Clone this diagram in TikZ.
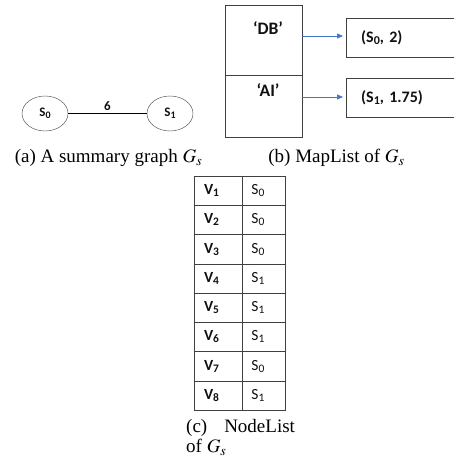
\documentclass[tikz,border=0pt]{standalone}
\usepackage{mathptmx}
\usepackage{fontspec}
\setmainfont{Liberation Serif}
\newfontfamily\calfont{Carlito}
\usetikzlibrary{arrows.meta,positioning,shapes.geometric}
\definecolor{lineGray}{HTML}{404040}
\definecolor{textGray}{HTML}{111111}
\definecolor{arrowBlue}{HTML}{4472C4}
\newcommand\lowidx[2][10]{\raisebox{-2pt}{\fontsize{#1}{#1}\selectfont #2}}
\tikzset{
  x=1pt, y=-1pt,
  cal/.style  ={font=\calfont\bfseries\fontsize{16}{18}\selectfont, text=textGray},
  key/.style  ={cal, font=\calfont\bfseries\fontsize{17.5}{19}\selectfont},
  vert/.style ={draw=lineGray, ellipse, minimum width=46pt, minimum height=35pt, inner sep=0pt, cal, font=\calfont\bfseries\fontsize{13}{15}\selectfont},
  cell/.style ={draw=lineGray, rectangle, inner sep=0pt},
  pair/.style ={cell, minimum width=114pt, minimum height=39pt, anchor=west, align=left, text width=99pt, inner xsep=15pt, cal},
  vcell/.style={cell, minimum height=29.25pt, text width=28pt, inner xsep=10pt, align=left, cal, font=\calfont\bfseries\fontsize{15.5}{17}\selectfont},
  scell/.style={cell, minimum height=29.25pt, text width=25pt, inner xsep=9pt, align=left, cal, font=\calfont\fontsize{15.5}{17}\selectfont},
  arr/.style  ={-{Triangle[length=6pt,width=5pt]}, draw=arrowBlue, line width=0.6pt, shorten >=3pt},
  caption/.style={font=\fontsize{19}{21}\selectfont, inner sep=0pt},
}

\begin{document}
\begin{tikzpicture}
  \useasboundingbox[fill=white] (0,0) rectangle (453,460);
  % (a) summary graph
  \node[vert] (s0) at (45,113.5) {S\lowidx[10]{0}};
  \node[vert] (s1) at (170,113.5) {S\lowidx[10]{1}};
  \draw[line width=1.2pt, black] (s0) -- node[above=-1pt, cal, font=\calfont\bfseries\fontsize{13}{15}\selectfont] (w) {6} (s1);
  \node[caption] (capa) at (108.5,158) {(a) A summary graph $G_s$};
  % (b) map list
  \node[cell, minimum width=77pt, minimum height=70pt, anchor=north west] (dbcell) at (225,5) {};
  \node[cell, minimum width=77pt, minimum height=62pt, anchor=north west] (aicell) at (225,75) {};
  \node[key] (db) at (268,28) {‘DB’};
  \node[key] (ai) at (268,90) {‘AI’};
  \node[pair] (pdb) at (346,38) {(S\lowidx[12]{0}, 2)};
  \node[pair] (pai) at (346,97.5) {(S\lowidx[12]{1}, 1.75)};
  \draw[arr] (dbcell.east |- 0,36) -- (pdb.west |- 0,36);
  \draw[arr] (aicell.east |- 0,97) -- (pai.west |- 0,97);
  \node[caption] (capb) at (336.5,158) {(b) MapList of $G_s$};
  % (c) node list
  \foreach \i/\s in {1/0,2/0,3/0,4/1,5/1,6/1,7/0,8/1} {
    \node[vcell] (v\i) at (218,{176+29.25*(\i-0.5)}) {V\lowidx[11.5]{\i}};
    \node[scell, right=0pt of v\i] (c\i) {S\lowidx[11.5]{\s}};
  }
  \node[caption, anchor=north west, align=left] (capc) at (186,419) {(c)\hspace{17pt}NodeList\\[-1pt]of $G_s$};
\end{tikzpicture}
\end{document}
